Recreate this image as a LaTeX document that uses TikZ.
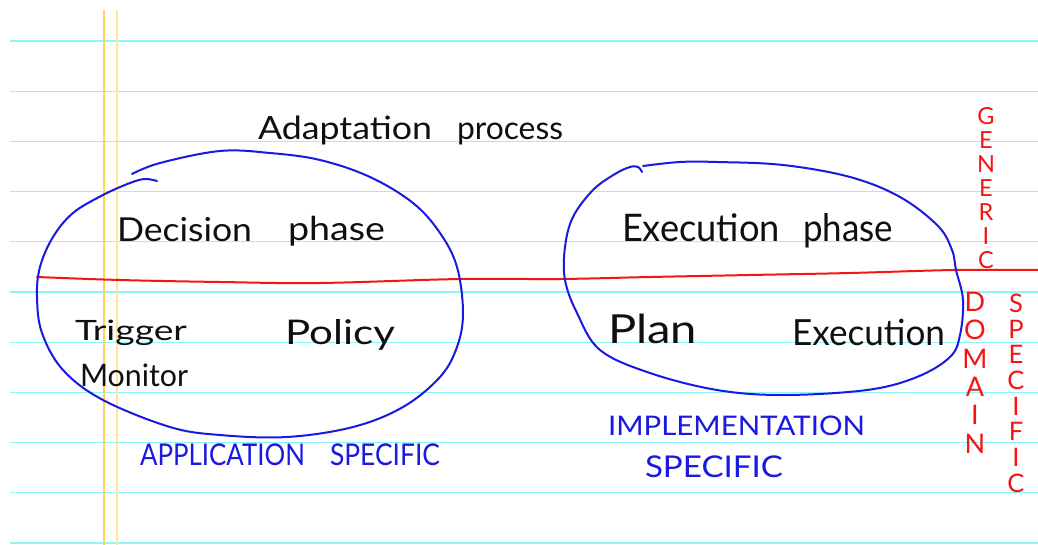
\documentclass[tikz,border=0pt]{standalone}
\usepackage{fontspec}
\setmainfont{Lato}
\usepackage{graphicx}
\definecolor{paperline}{RGB}{140,245,250}
\definecolor{marginA}{RGB}{255,214,90}
\definecolor{marginB}{RGB}{255,230,155}
\definecolor{inkblue}{RGB}{25,25,225}
\definecolor{inkred}{RGB}{245,20,20}
\definecolor{inkblack}{RGB}{15,15,15}
\newcommand{\hw}[3]{\resizebox{#1pt}{\height}{\fontsize{#2pt}{#2pt}\selectfont #3}}
\begin{document}
\begin{tikzpicture}[x=1pt,y=-1pt,
  ruled/.style={paperline, line width=1.3pt},
  loopline/.style={inkblue, line width=2pt, line cap=round, line join=round},
  divider/.style={inkred, line width=2pt, line cap=round},
  hand/.style={anchor=base west, inner sep=0pt, outer sep=0pt, text=inkblack},
  vert/.style={anchor=north, inner sep=0pt, outer sep=0pt, align=center, text=inkred}]
\useasboundingbox (0,0) rectangle (1038,545);
\fill[white] (0,0) rectangle (1038,545);
% ruled paper
\foreach \k in {0,...,10} \draw[ruled] (10,{41+50.2*\k}) -- (1038,{41+50.2*\k});
\draw[marginA, line width=1.3pt] (104,10) -- (104,545);
\draw[marginB, line width=2pt] (117,10) -- (117,545);
% red divider
\draw[divider] plot[smooth, tension=0.6] coordinates {(37,277) (120,280) (220,282) (320,283) (460,279) (560,279) (650,277) (750,275) (850,273) (955,270) (1038,270)};
% left loop
\draw[loopline] plot[smooth, tension=0.6] coordinates {(132,174) (160,163) (220,151) (270,153) (320,160) (370,177) (413,203) (440,233) (457,267) (463,313) (457,347) (440,377) (403,407) (353,427) (287,437) (220,435) (170,427) (103,400) (63,370) (42,333) (37,297) (40,267) (53,237) (73,213) (103,195) (130,183) (145,179) (157,181)};
% right loop
\draw[loopline] plot[smooth, tension=0.6] coordinates {(643,166) (680,162) (717,162) (783,165) (850,177) (900,197) (938,226) (952,250) (956,270) (963,300) (960,335) (950,357) (917,377) (867,390) (783,395) (717,390) (650,373) (600,350) (577,313) (565,280) (565,247) (573,217) (593,190) (615,174) (630,167) (638,167) (642,172)};
% black handwriting
\node[hand] (title) at (258,140) {\hw{174}{32}{Adaptation}\hspace{25pt}\hw{106}{32}{process}};
\node[hand] (decision) at (117,241) {\hw{135}{33}{Decision}\hspace{36pt}\hw{97}{33}{phase}};
\node[hand] (execphase) at (622,242) {\hw{158}{38}{Execution}\hspace{23pt}\hw{90}{38}{phase}};
\node[hand] (trigger) at (75,340) {\hw{112}{28}{Trigger}};
\node[hand] (monitor) at (80,386) {\hw{108}{31}{Monitor}};
\node[hand] (policy) at (285,344) {\hw{110}{34}{Policy}};
\node[hand] (plan) at (608,343) {\hw{89}{40}{Plan}};
\node[hand] (execution) at (792,345) {\hw{153}{36}{Execution}};
% blue notes
\node[hand, text=inkblue] (appspec) at (140,465) {\hw{165}{30}{APPLICATION}\hspace{25pt}\hw{110}{30}{SPECIFIC}};
\node[hand, text=inkblue] (impl) at (608,435) {\hw{257}{27}{IMPLEMENTATION}};
\node[hand, text=inkblue] (implspec) at (645,477) {\hw{138}{30}{SPECIFIC}};
% red vertical notes
\node[vert, font=\fontsize{23.5pt}{24pt}\selectfont] (generic) at (986,107) {G\\E\\N\\E\\R\\I\\C};
\node[vert, font=\fontsize{27pt}{28.4pt}\selectfont] (domain) at (975,292) {D\\O\\M\\A\\I\\N};
\node[vert, font=\fontsize{25.5pt}{25.7pt}\selectfont] (specific) at (1016,294) {S\\P\\E\\C\\I\\F\\I\\C};
\end{tikzpicture}
\end{document}
